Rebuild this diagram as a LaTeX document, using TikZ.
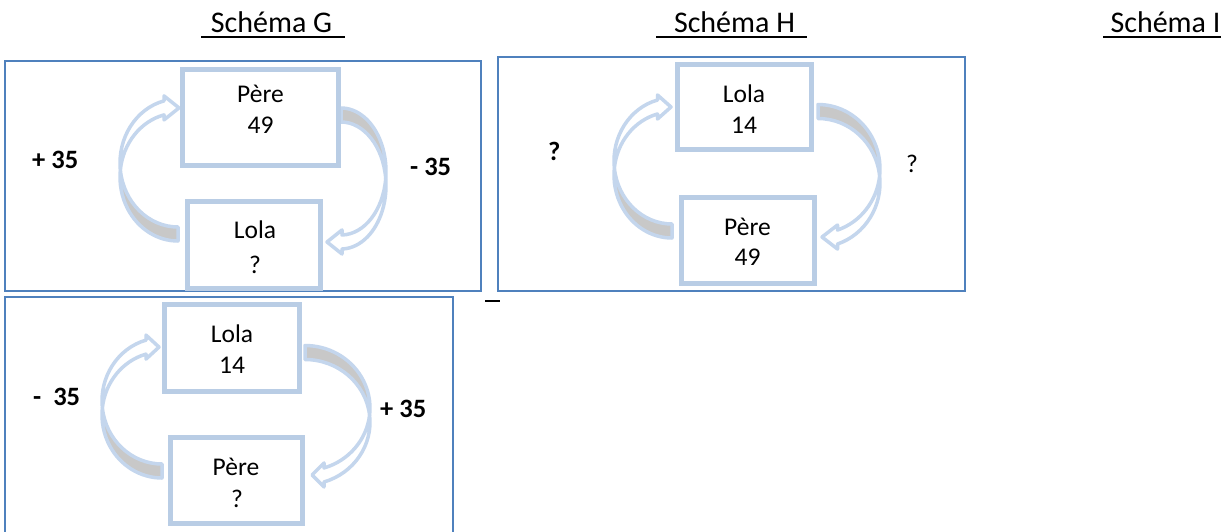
\documentclass[tikz,border=0pt]{standalone}
\usepackage{fontspec}
\setmainfont{Carlito}
\definecolor{outerblue}{RGB}{79,129,189}
\definecolor{boxblue}{RGB}{185,205,229}
\definecolor{arrblue}{RGB}{196,214,237}
\definecolor{arrgrey}{RGB}{200,200,200}
\tikzset{
  outerframe/.style={draw=outerblue, line width=2pt},
  bx/.style={draw=boxblue, line width=5pt, rectangle, inner sep=0pt, outer sep=0pt},
  arrline/.style={draw=arrblue, line width=3.5pt, line join=round},
  boxtxt/.style={font=\fontsize{25.5}{30}\selectfont, anchor=base, inner sep=0pt},
  lbl/.style={font=\fontsize{26.5}{30}\selectfont\bfseries, anchor=base west, inner sep=0pt},
  lblr/.style={font=\fontsize{25.5}{30}\selectfont, anchor=base west, inner sep=0pt},
  headtxt/.style={font=\fontsize{30}{36}\selectfont, anchor=base, inner sep=0pt},
  uline/.style={line width=2.6pt}
}
% curved block arrow: #1 cx, #2 cy (pixel, y down), #3 rx, #4 ry, #5 head base x, #6 tip x, #7 rotation
\newcommand\curvarr[7]{%
\begin{scope}[shift={(#1,-#2)}, rotate=#7]
\pgfmathsetmacro\myca{180+asin(7/#4)}%
\pgfmathsetmacro\mycb{360-\myca}%
\pgfmathsetmacro\myth{acos(#5/#3)}%
\pgfmathsetmacro\myhy{#4*sin(\myth)}%
\filldraw[fill=arrgrey, arrline] (0,{-7-#4}) arc[start angle=270, end angle=\mycb, x radius=#3, y radius=#4]
   arc[start angle=\myca, end angle=270, x radius=#3, y radius=#4] -- cycle;
\filldraw[fill=white, arrline] ({#3*cos(\myca)},{7+#4*sin(\myca)})
   arc[start angle=\myca, end angle=\myth, x radius=#3, y radius=#4]
   -- (#5,{\myhy+12}) -- (#6,\myhy) -- (#5,{\myhy-12}) -- (#5,{\myhy-7})
   arc[start angle=\myth, end angle=\mycb, x radius=#3, y radius=#4] -- cycle;
\end{scope}}
\begin{document}
\begin{tikzpicture}[x=1pt,y=1pt]
\useasboundingbox (0,0) rectangle (1232,-531);
\fill[white] (0,0) rectangle (1232,-531);
% headings
\node[headtxt] (hG) at (271.5,-32) {Schéma G};
\node[headtxt] (hH) at (734.5,-32) {Schéma H};
\node[headtxt] (hI) at (1165.5,-32) {Schéma I};
\draw[uline] (201,-37) -- (345,-37);
\draw[uline] (656,-37) -- (807,-37);
\draw[uline] (1103,-37) -- (1221,-37);
% outer frames
\draw[outerframe] (5,-61) rectangle (481,-291);
\draw[outerframe] (498,-57) rectangle (965,-291);
\draw[outerframe] (5,-540) -- (5,-297) -- (453,-297) -- (453,-540);
\draw[line width=2.7pt] (485,-301) -- (500,-301);
% arrows
\curvarr{178}{170}{58}{64}{-14}{1}{0}
\curvarr{341}{178.5}{45}{63.5}{-1}{14}{180}
\curvarr{672}{168}{58}{63}{-14.5}{-1}{0}
\curvarr{818}{175.9}{62}{64.4}{-19.5}{-4}{180}
\curvarr{162}{407.9}{60}{63.1}{-16}{-3}{0}
\curvarr{305}{415.1}{65}{62.6}{-19}{-7}{180}
% boxes schema G
\node[bx, minimum width=156pt, minimum height=96.5pt] (gP) at (260.5,-117.25) {};
\node[bx, minimum width=133.5pt, minimum height=87pt] (gL) at (253.75,-244.5) {};
\node[boxtxt] (gPt1) at (260.5,-102) {Père};
\node[boxtxt] (gPt2) at (260.5,-133) {49};
\node[boxtxt] (gLt1) at (255,-238) {Lola};
\node[boxtxt] (gLt2) at (255,-273) {?};
\node[lbl] (gl1) at (32,-168) {+ 35};
\node[lbl] (gl2) at (410,-175) {- 35};
% boxes schema H
\node[bx, minimum width=133.5pt, minimum height=85pt] (hL) at (744.25,-107.2) {};
\node[bx, minimum width=133pt, minimum height=86.7pt] (hP) at (747.5,-240.35) {};
\node[boxtxt] (hLt1) at (744,-102) {Lola};
\node[boxtxt] (hLt2) at (744,-133) {14};
\node[boxtxt] (hPt1) at (747.5,-235) {Père};
\node[boxtxt] (hPt2) at (747.5,-265) {49};
\node[lbl] (hl1) at (548,-160) {?};
\node[lblr] (hl2) at (906,-172) {?};
% boxes bottom schema
\node[bx, minimum width=135pt, minimum height=86.3pt] (bL) at (232,-347.85) {};
\node[bx, minimum width=132pt, minimum height=86pt] (bP) at (236,-480) {};
\node[boxtxt] (bLt1) at (232,-342) {Lola};
\node[boxtxt] (bLt2) at (232,-373) {14};
\node[boxtxt] (bPt1) at (236,-475) {Père};
\node[boxtxt] (bPt2) at (237,-507) {?};
\node[lbl] (bl1) at (33,-405) {-~~35};
\node[lbl] (bl2) at (380,-417) {+ 35};
\end{tikzpicture}
\end{document}
